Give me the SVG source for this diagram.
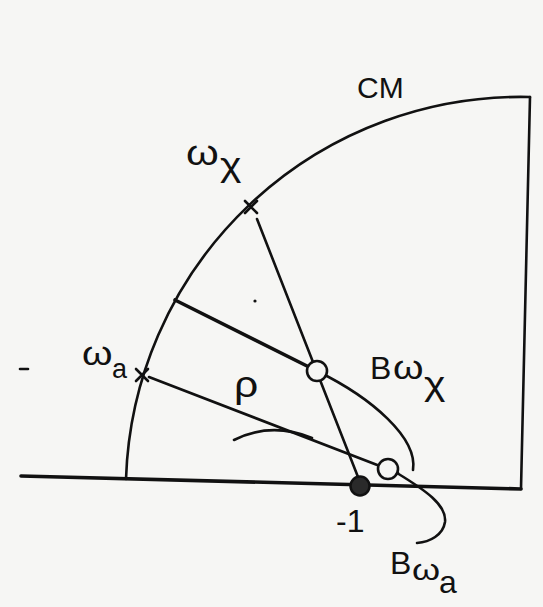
<svg xmlns="http://www.w3.org/2000/svg" width="543" height="607" viewBox="0 0 543 607">
<style>
  .ln{fill:none;stroke:#111;stroke-width:2.6;stroke-linecap:round;stroke-linejoin:round}
  .thick{stroke-width:3.6}
  .lbl{font-family:"Liberation Sans",Arial,sans-serif;fill:#111}
  .open{fill:#f6f6f4;stroke:#111;stroke-width:2.6}
</style>
<rect x="0" y="0" width="543" height="607" fill="#f6f6f4"/>
<g id="frame">
  <path class="ln thick" d="M21,476 L521,489"/>
  <path class="ln" d="M521,489 L530,97"/>
  <path id="cm-arc" class="ln" d="M126,479 A395,395 0 0 1 530,97"/>
</g>
<g id="connectors">
  <path id="line-wx" class="ln" d="M257,219 L358,477"/>
  <path id="line-thick" class="ln thick" d="M175,300 L317,371"/>
  <path id="B-wx" class="ln" d="M317,371 C372,398 418,438 413,470"/>
  <path id="line-wa" class="ln" d="M149,377 L398,473"/>
  <path id="B-wa-left" class="ln" d="M234,440 C258,428 285,427 312,438"/>
  <path id="B-wa-right" class="ln" d="M397,473 C425,490 447,505 445,522 C443,535 430,542 417,543"/>
</g>
<g id="node-wx">
  <path class="ln" d="M245,201 L257,213 M257,201 L245,213"/>
  <text class="lbl" font-size="35" transform="translate(186,165) scale(1.2,1)">ω</text>
  <text class="lbl" font-size="34" transform="translate(220,176) scale(1.2,1)">χ</text>
</g>
<g id="node-wa">
  <path class="ln" d="M136,369 L148,381 M148,369 L136,381"/>
  <text class="lbl" font-size="34" transform="translate(82,365) scale(1.15,1)">ω</text>
  <text class="lbl" font-size="27" x="112" y="378">a</text>
</g>
<g id="node-cm">
  <text class="lbl" font-size="30" x="357" y="98">CM</text>
</g>
<g id="node-rho">
  <text class="lbl" font-size="37" transform="translate(234,397) scale(1.15,1)">ρ</text>
</g>
<g id="node-Bwx-point">
  <circle class="open" cx="317" cy="371" r="10"/>
</g>
<g id="node-Bwa-point">
  <circle class="open" cx="388" cy="469" r="10"/>
</g>
<g id="node-minus1">
  <circle cx="360" cy="486" r="9.5" fill="#2a2a2a" stroke="#111" stroke-width="2.5"/>
  <text class="lbl" font-size="32" x="336" y="532">-1</text>
</g>
<g id="label-Bwx">
  <text class="lbl" font-size="32" x="370" y="379">B</text>
  <text class="lbl" font-size="34" transform="translate(393,379) scale(1.15,1)">ω</text>
  <text class="lbl" font-size="34" transform="translate(424,395) scale(1.2,1)">χ</text>
</g>
<g id="label-Bwa">
  <text class="lbl" font-size="32" x="390" y="574">B</text>
  <text class="lbl" font-size="30" transform="translate(412,580) scale(1.2,1)">ω</text>
  <text class="lbl" font-size="32" x="439" y="593">a</text>
</g>
<g id="marks">
  <path class="ln" d="M20,369 L28,369"/>
  <circle cx="255" cy="301" r="1.6" fill="#111"/>
</g>
</svg>
